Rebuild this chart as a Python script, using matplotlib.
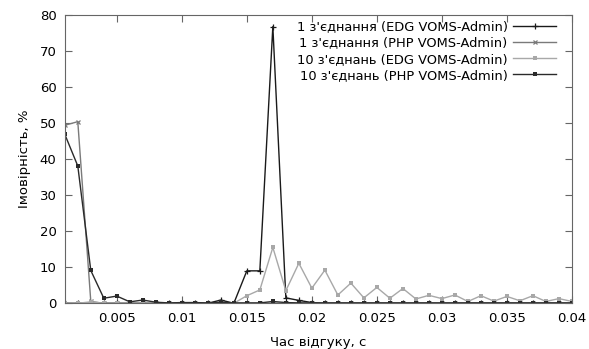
import numpy as np
import matplotlib
matplotlib.use('Agg')
import matplotlib.pyplot as plt

plt.rcParams['font.family'] = ['DejaVu Sans']

# response time, s
t = [round(0.001 * i, 3) for i in range(1, 41)]

# probability, %
edg_1 = [0, 0, 0, 0, 0, 0, 0, 0, 0, 0,
         0, 0, 0.9, 0, 9.0, 9.0, 76.8, 1.5, 0.8, 0.2,
         0, 0, 0, 0, 0, 0, 0, 0, 0, 0,
         0, 0, 0, 0, 0, 0, 0, 0, 0, 0]
php_1 = [49.4, 50.4, 0.5, 0, 0, 0, 0, 0, 0, 0,
         0, 0, 0, 0, 0, 0, 0, 0, 0, 0,
         0, 0, 0, 0, 0, 0, 0, 0, 0, 0,
         0, 0, 0, 0, 0, 0, 0, 0, 0, 0]
edg_10 = [0, 0, 0.4, 0, 0, 0, 0, 0, 0, 0,
          0, 0, 0, 0, 2.1, 3.7, 15.5, 3.5, 11.1, 4.2,
          9.2, 2.3, 5.6, 1.5, 4.4, 1.4, 4.1, 1.2, 2.2, 1.3,
          2.3, 0.5, 2.1, 0.6, 1.9, 0.7, 2.1, 0.5, 1.3, 0.5]
php_10 = [46.9, 38.1, 9.1, 1.4, 2.0, 0.4, 0.9, 0.3, 0.1, 0.2,
          0.2, 0.1, 0.3, 0.1, 0.1, 0.1, 0.5, 0.2, 0.1, 0.1,
          0.1, 0.1, 0.1, 0.1, 0.1, 0.1, 0.1, 0.1, 0.1, 0.1,
          0.1, 0.1, 0.1, 0.1, 0.1, 0.1, 0.1, 0.1, 0.1, 0.1]

labels = ["1 з'єднання (EDG VOMS-Admin)",
          "1 з'єднання (PHP VOMS-Admin)",
          "10 з'єднань (EDG VOMS-Admin)",
          "10 з'єднань (PHP VOMS-Admin)"]

fig = plt.figure(figsize=(5.89, 3.49), dpi=100)
ax = fig.add_axes([0.110, 0.131, 0.861, 0.826])

ax.plot(t, edg_1, color='#1a1a1a', lw=1.0, marker='+', ms=5, mew=0.9, label=labels[0])
ax.plot(t, php_1, color='#7a7a7a', lw=1.0, marker='x', ms=3.5, mew=0.9, label=labels[1])
ax.plot(t, edg_10, color='#a8a8a8', lw=1.0, marker='s', ms=3, mew=0, label=labels[2])
ax.plot(t, php_10, color='#2a2a2a', lw=1.0, marker='s', ms=3.5, mew=0, label=labels[3])

ax.set_xlim(0.001, 0.04)
ax.set_ylim(0, 80)
ax.set_xticks([0.005, 0.01, 0.015, 0.02, 0.025, 0.03, 0.035, 0.04])
ax.set_xticklabels(['0.005', '0.01', '0.015', '0.02', '0.025', '0.03', '0.035', '0.04'])
ax.set_yticks(range(0, 81, 10))
ax.tick_params(direction='in', top=True, right=True, length=5, width=0.8,
               color='#666666', labelsize=9.5, pad=6)
for s in ax.spines.values():
    s.set_color('#666666')
    s.set_linewidth(0.8)

ax.set_xlabel('Час відгуку, с', fontsize=9.5, labelpad=8)
ax.set_ylabel('Імовірність, %', fontsize=9.5, labelpad=6)

leg = ax.legend(loc='upper right', markerfirst=False, frameon=False, fontsize=9.4,
                handlelength=3.3, labelspacing=0.25, handletextpad=0.4,
                borderaxespad=0, bbox_to_anchor=(0.979, 1.0))

fig.savefig('out.png', dpi=100)
